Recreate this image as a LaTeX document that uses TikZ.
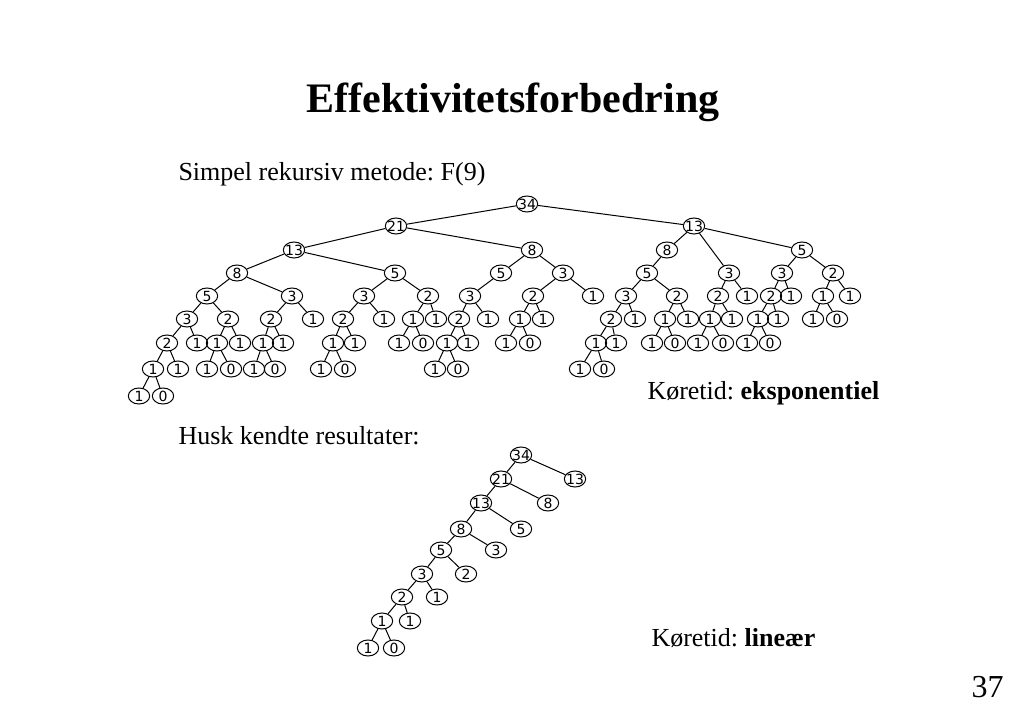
\documentclass[tikz,border=0pt]{standalone}
\usepackage{fontspec}
\setmainfont{Liberation Serif}
\newfontfamily\fibfont{DejaVu Sans}
\usetikzlibrary{shapes.geometric}
\frenchspacing

\begin{document}
\begin{tikzpicture}[x=0.75pt, y=-0.75pt, line width=0.75pt]
\tikzstyle{call} = [ellipse, draw, inner xsep=-2pt, inner ysep=0pt, minimum width=16pt, minimum height=12pt, font=\fibfont\fontsize{10.5}{10.5}\selectfont]
\tikzstyle{slidetext} = [anchor=base west, inner sep=0pt, font=\fontsize{19.5}{23}\selectfont]

\useasboundingbox (0,0) rectangle (1024,709);

\node (title) [anchor=base, inner sep=0pt, font=\bfseries\fontsize{31.5}{36}\selectfont] at (513,113) {Effektivitetsforbedring};
\node (naive) [slidetext] at (178,181) {Simpel rekursiv metode: F(9)};
\node (tidexp) [slidetext] at (647,399) {Køretid: \textbf{eksponentiel}};
\node (memo) [slidetext] at (178,444) {Husk kendte resultater:};
\node (tidlin) [slidetext] at (651,646) {Køretid: \textbf{lineær}};
\node (pagenr) [anchor=base east, inner sep=0pt, font=\fontsize{24}{28}\selectfont] at (1004,697) {37};

% rekursionstrae for F(9), et niveau per linje
\node (a0) [call] at (527,204) {34};
\foreach \name/\x/\val in {b1/396/21, b2/694/13}
  \node (\name) [call] at (\x,226) {\val};
\foreach \name/\x/\val in {c1/294/13, c2/532/8, c3/667/8, c4/802/5}
  \node (\name) [call] at (\x,250) {\val};
\foreach \name/\x/\val in {d1/237/8, d2/395/5, d3/501/5, d4/563/3, d5/647/5, d6/729/3, d7/782/3, d8/833/2}
  \node (\name) [call] at (\x,273) {\val};
\foreach \name/\x/\val in {e1/207/5, e2/292/3, e3/364/3, e4/428/2, e5/470/3, e6/533/2, e7/593/1, e8/626/3,
    e9/677/2, e10/718/2, e11/747/1, e12/771/2, e13/791/1, e14/823/1, e15/850/1}
  \node (\name) [call] at (\x,296) {\val};
\foreach \name/\x/\val in {f1/187/3, f2/228/2, f3/271/2, f4/313/1, f5/343/2, f6/384/1, f7/413/1, f8/436/1,
    f9/459/2, f10/488/1, f11/520/1, f12/543/1, f13/611/2, f14/635/1, f15/665/1, f16/688/1, f17/710/1,
    f18/732/1, f19/758/1, f20/778/1, f21/813/1, f22/837/0}
  \node (\name) [call] at (\x,319) {\val};
\foreach \name/\x/\val in {g1/167/2, g2/197/1, g3/217/1, g4/240/1, g5/263/1, g6/283/1, g7/333/1, g8/355/1,
    g9/399/1, g10/423/0, g11/447/1, g12/468/1, g13/506/1, g14/530/0, g15/596/1, g16/616/1, g17/652/1,
    g18/675/0, g19/698/1, g20/723/0, g21/747/1, g22/770/0}
  \node (\name) [call] at (\x,343) {\val};
\foreach \name/\x/\val in {h1/153/1, h2/178/1, h3/207/1, h4/231/0, h5/254/1, h6/275/0, h7/321/1, h8/345/0,
    h9/435/1, h10/458/0, h11/580/1, h12/604/0}
  \node (\name) [call] at (\x,369) {\val};
\foreach \name/\x/\val in {i1/139/1, i2/163/0}
  \node (\name) [call] at (\x,396) {\val};

\foreach \from/\to in {a0/b1, a0/b2, b1/c1, b1/c2, b2/c3, b2/d6, b2/c4,
    c1/d1, c1/d2, c2/d3, c2/d4, c3/d5, c4/d7, c4/d8,
    d1/e1, d1/e2, d2/e3, d2/e4, d3/e5, d4/e6, d4/e7, d5/e8, d5/e9, d6/e10, d6/e11, d7/e12, d7/e13, d8/e14, d8/e15,
    e1/f1, e1/f2, e2/f3, e2/f4, e3/f5, e3/f6, e4/f7, e4/f8, e5/f9, e5/f10, e6/f11, e6/f12,
    e8/f13, e8/f14, e9/f15, e9/f16, e10/f17, e10/f18, e12/f19, e12/f20, e14/f21, e14/f22,
    f1/g1, f1/g2, f2/g3, f2/g4, f3/g5, f3/g6, f5/g7, f5/g8, f7/g9, f7/g10, f9/g11, f9/g12,
    f11/g13, f11/g14, f13/g15, f13/g16, f15/g17, f15/g18, f17/g19, f17/g20, f19/g21, f19/g22,
    g1/h1, g1/h2, g3/h3, g3/h4, g5/h5, g5/h6, g7/h7, g7/h8, g11/h9, g11/h10, g15/h11, g15/h12,
    h1/i1, h1/i2}
  \draw (\from) -- (\to);

% med huskede resultater
\foreach \k/\x/\y/\val in {1/521/455/34, 2/501/479/21, 3/481/503/13, 4/461/529/8, 5/441/550/5,
    6/422/574/3, 7/402/597/2, 8/382/621/1, 9/368/648/1}
  \node (m\k) [call] at (\x,\y) {\val};
\foreach \k/\x/\y/\val in {2/575/479/13, 3/548/503/8, 4/521/529/5, 5/496/550/3, 6/466/574/2,
    7/437/597/1, 8/410/621/1, 9/394/648/0}
  \node (s\k) [call] at (\x,\y) {\val};
\foreach \k [evaluate=\k as \j using int(\k+1)] in {1,...,8} {
  \draw (m\k) -- (m\j);
  \draw (m\k) -- (s\j);
}

\end{tikzpicture}
\end{document}
